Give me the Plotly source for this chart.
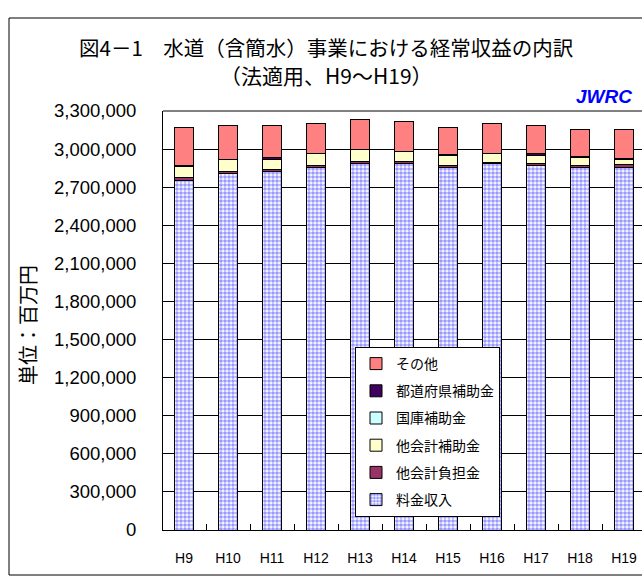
import plotly.graph_objects as go

years = ["H9", "H10", "H11", "H12", "H13", "H14", "H15", "H16", "H17", "H18", "H19"]

# 単位：百万円
ryokin = [2755000, 2808000, 2824000, 2857000, 2889000, 2889000, 2853000, 2884000, 2871000, 2857000, 2857000]   # 料金収入
futan = [24000, 18000, 18000, 14000, 13000, 13000, 18000, 10000, 18000, 14000, 19000]                      # 他会計負担金
hojo = [87000, 91000, 76000, 93000, 93000, 80000, 82000, 70000, 61000, 66000, 42000]                        # 他会計補助金
kokko = [1000, 1000, 2000, 1000, 1000, 1000, 1000, 1000, 2000, 1000, 1000]                                  # 国庫補助金
todofuken = [2000, 2000, 16000, 2000, 2000, 2000, 2000, 2000, 16000, 2000, 9000]                            # 都道府県補助金
sonota = [303000, 267000, 251000, 236000, 237000, 236000, 216000, 236000, 219000, 216000, 228000]         # その他

y_ticks = list(range(0, 3300001, 300000))

W, H = 642, 576
L, R, T, B = 163, 642, 111, 530

def px_x(x):
    return (x - L) / (R - L)

def px_y(y):
    return (B - y) / (B - T)

FONT = "Liberation Sans, Arial, Noto Sans CJK JP, sans-serif"
JFONT = "Noto Sans CJK JP, Liberation Sans, sans-serif"

series = [
    ("料金収入", ryokin, dict(color="#9999FF",
                              pattern=dict(shape=".", fgcolor="#9999FF", bgcolor="#FFFFFF",
                                           size=4, solidity=0.65, fillmode="replace"))),
    ("他会計負担金", futan, dict(color="#993366")),
    ("他会計補助金", hojo, dict(color="#FFFFCC")),
    ("国庫補助金", kokko, dict(color="#CCFFFF")),
    ("都道府県補助金", todofuken, dict(color="#400060")),
    ("その他", sonota, dict(color="#FF8080")),
]

fig = go.Figure()
n = len(series)
for i, (name, vals, mk) in enumerate(series):
    mk = dict(mk)
    mk["line"] = dict(color="#000000", width=1)
    fig.add_trace(go.Bar(x=years, y=vals, name=name, marker=mk,
                         legendgroup=str(i), legendrank=n - i))

fig.update_layout(
    width=W, height=H,
    margin=dict(l=L, r=W - R, t=T, b=H - B, pad=0),
    barmode="stack",
    bargap=0.59,
    plot_bgcolor="#FFFFFF",
    paper_bgcolor="#FFFFFF",
    font=dict(family=FONT, color="#000000"),
    showlegend=True,
    legend=dict(
        x=px_x(355), y=px_y(347), xanchor="left", yanchor="top",
        bgcolor="#FFFFFF", bordercolor="#000000", borderwidth=1,
        font=dict(family=JFONT, size=14, color="#000000"),
        traceorder="grouped", tracegroupgap=6,
        itemwidth=30,
    ),
    xaxis=dict(
        type="category",
        range=[-21 / 44, -21 / 44 + (R - L) / 44],
        showline=True, linecolor="#000000", linewidth=1,
        ticks="inside", tickson="boundaries", ticklen=6, tickcolor="#000000",
        showgrid=False,
        tickfont=dict(family=FONT, size=14),
        ticklabelstandoff=15,
    ),
    yaxis=dict(
        range=[0, 3300000],
        tickvals=y_ticks,
        tickformat=",d",
        showline=True, linecolor="#000000", linewidth=1,
        showgrid=True, gridcolor="#000000", gridwidth=1,
        ticks="",
        tickfont=dict(family=FONT, size=18.5),
        ticklabelstandoff=22,
        zeroline=False,
    ),
    shapes=[
        dict(type="rect", xref="paper", yref="paper",
             x0=px_x(9), x1=px_x(720), y0=px_y(18), y1=px_y(575),
             line=dict(color="#000000", width=1), fillcolor="rgba(0,0,0,0)", layer="below"),
        dict(type="line", xref="paper", yref="paper",
             x0=0, x1=1, y0=1, y1=1, line=dict(color="#808080", width=2)),
    ],
    annotations=[
        dict(text="図4－1　水道（含簡水）事業における経常収益の内訳", xref="paper", yref="paper",
             x=px_x(326), y=px_y(47), xanchor="center", yanchor="middle", showarrow=False,
             font=dict(family=JFONT, size=20.5, color="#000000")),
        dict(text="（法適用、H9～H19）", xref="paper", yref="paper",
             x=px_x(326), y=px_y(75), xanchor="center", yanchor="middle", showarrow=False,
             font=dict(family=JFONT, size=21, color="#000000")),
        dict(text="<b><i>JWRC</i></b>", xref="paper", yref="paper",
             x=px_x(634), y=px_y(96), xanchor="right", yanchor="middle", showarrow=False,
             font=dict(family=FONT, size=19, color="#0000FF")),
        dict(text="単位：百万円", xref="paper", yref="paper",
             x=px_x(27), y=px_y(325), xanchor="center", yanchor="middle", showarrow=False,
             textangle=-90,
             font=dict(family=JFONT, size=20, color="#000000")),
    ],
)

fig.write_html("out.html",
               config={"displayModeBar": False},
               post_script="document.body.style.margin='0';document.body.style.overflow='hidden';")
